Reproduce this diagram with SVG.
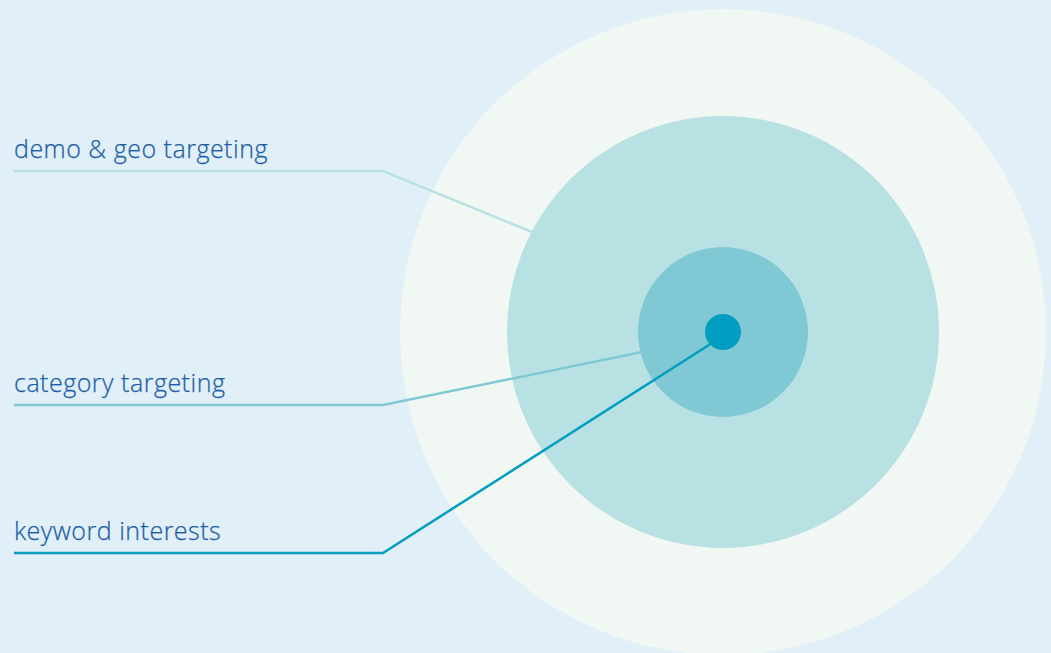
<svg xmlns="http://www.w3.org/2000/svg" width="1051" height="653" viewBox="0 0 1051 653">
  <style>
    .label { font-family: "Open Sans", "Liberation Sans", sans-serif; font-size: 25px; font-weight: 300; letter-spacing: 0.5px; fill: #1c5ea6; stroke: #1c5ea6; stroke-width: 0.25px; }
    .conn { fill: none; stroke-width: 2.5; stroke-linejoin: miter; }
  </style>
  <rect width="1051" height="653" fill="#e1eff8"/>
  <!-- concentric targeting rings -->
  <g id="ring-outer"><circle cx="723" cy="332" r="323" fill="#f1f7f2"/></g>
  <g id="ring-demo"><circle cx="723" cy="332" r="216" fill="#b8e1e3"/></g>
  <g id="ring-category"><circle cx="723" cy="332" r="85" fill="#80c9d4"/></g>
  <g id="ring-keyword"><circle cx="723" cy="332" r="18" fill="#029ec1"/></g>
  <!-- leader lines -->
  <g id="connectors">
    <polyline class="conn" stroke="#b8e1e3" points="14,171 383,171 532,232"/>
    <polyline class="conn" stroke="#80c9d4" points="14,405 383,405 642,352"/>
    <polyline class="conn" stroke="#029ec1" points="14,553 383,553 712,343"/>
  </g>
  <g id="label-demo"><text class="label" x="14" y="158">demo &amp; geo targeting</text></g>
  <g id="label-category"><text class="label" x="14" y="392">category targeting</text></g>
  <g id="label-keyword"><text class="label" x="14" y="540">keyword interests</text></g>
</svg>
